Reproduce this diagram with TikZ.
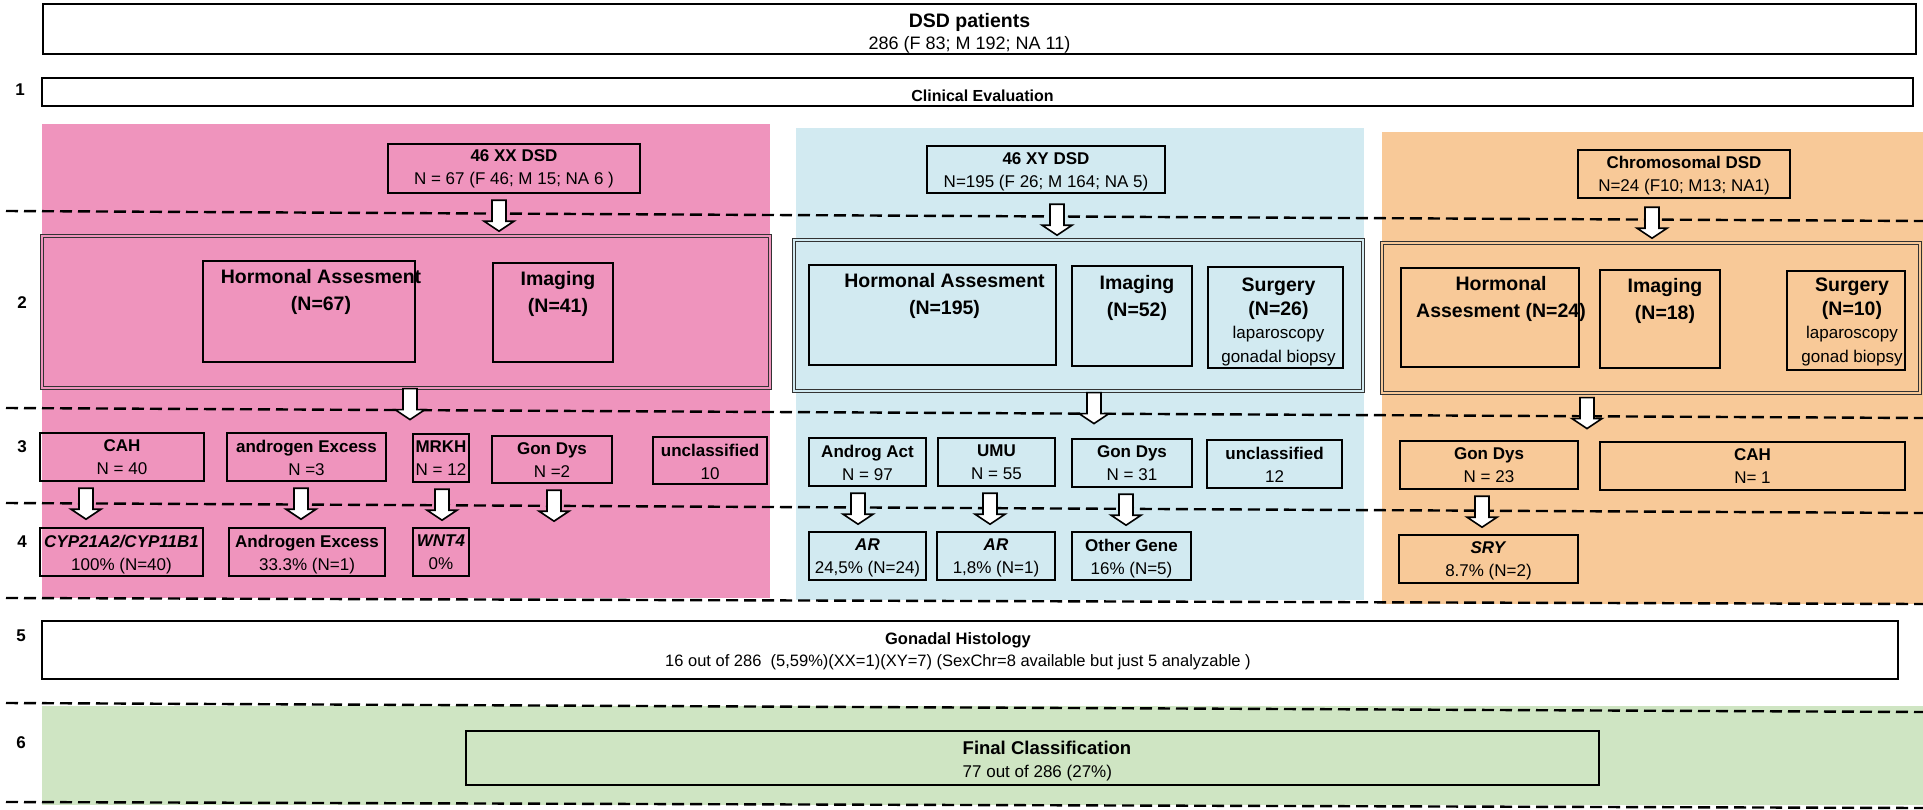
\documentclass[tikz,border=0pt]{standalone}
\usepackage{fontspec}
\setmainfont{Liberation Sans}
\usetikzlibrary{calc,fit}
\definecolor{pinkbg}{RGB}{239,148,189}
\definecolor{bluebg}{RGB}{210,234,241}
\definecolor{orangebg}{RGB}{248,201,152}
\definecolor{greenbg}{RGB}{207,229,195}
\newcommand\fsA{\fontsize{17}{23}\selectfont}
\newcommand\fsB{\fontsize{19.5}{27}\selectfont}
\newcommand\fsC{\fontsize{19.5}{23.5}\selectfont}
\newcommand\fsR{\fontsize{17}{22}\selectfont}
\newcommand\blockarr[3][6]{%
  \draw[barrow] let \p1=(#3.south) in
    (#2pt-7pt,\y1-#1pt) -- ++(0pt,-21pt) -- ++(-8pt,0pt) -- ++(15pt,-10pt)
    -- ++(15pt,10pt) -- ++(-8pt,0pt) -- ++(0pt,21pt) -- cycle;}
\tikzset{
  bx/.style={draw, line width=2.4pt, inner sep=0pt},
  bigbx/.style={draw=black!80, line width=1.1pt, double=#1, double distance=1.6pt, inner sep=0pt},
  lbl/.style={anchor=north, align=center, inner sep=0pt, font=\fsA},
  lblB/.style={anchor=north, align=center, inner sep=0pt, font=\fsB},
  lblC/.style={anchor=north, align=center, inner sep=0pt, font=\fsC},
  num/.style={font=\fontsize{17}{20}\selectfont\bfseries, inner sep=0pt},
  dashline/.style={line width=2.4pt, dash pattern=on 12pt off 6pt},
  barrow/.style={draw, line width=1.6pt, fill=white, line join=miter},
}
\begin{document}
\begin{tikzpicture}[x=1pt,y=-1pt]
\useasboundingbox (0,0) rectangle (1923,809);
% coloured bands
\fill[pinkbg] (42,124) rectangle (770,598);
\fill[bluebg] (796,128) rectangle (1364,600);
\fill[orangebg] (1382,132) rectangle (1923,604);
\fill[greenbg] (42,706) rectangle (1923,805);
% dashed separators
\foreach \a/\b in {211/221, 408/418, 503/513, 598/604, 703/712, 802/808}
  \draw[dashline] (6,\a) -- (1923,\b);
% step numbers
\node[num] (n1) at (20,90) {1};
\node[num] (n2) at (22,303) {2};
\node[num] (n3) at (22,447) {3};
\node[num] (n4) at (22,542) {4};
\node[num] (n5) at (21,636) {5};
\node[num] (n6) at (21,743) {6};
% top
\node[bx, fill=white, fit={(43,4)(1916,54)},
  label={[lbl, font=\fontsize{19.5}{22}\selectfont, yshift=-10pt, xshift=-10pt]north:{\textbf{DSD patients}\\{\fontsize{18}{22}\selectfont 286 (F 83; M 192; NA 11)}}}] (dsd) {};
\node[bx, fill=white, fit={(42,78)(1913,106)},
  label={[lbl, font=\fontsize{16}{20}\selectfont, yshift=-13pt, xshift=5pt]north:{\textbf{Clinical Evaluation}}}] (clin) {};
% ---------- pink column ----------
\node[bx, fit={(388,144)(640,193)},
  label={[lbl, yshift=-7pt]north:{\textbf{46 XX DSD}\\N = 67 (F 46; M 15; NA 6 )}}] (xx) {};
\node[bigbx=pinkbg, fit={(42,236)(770,388)}] (pbig) {};
\node[bx, fit={(203,261)(415,362)},
  label={[lblB, yshift=-9pt, xshift=12pt]north:{\textbf{Hormonal Assesment}\\\textbf{(N=67)}}}] (phorm) {};
\node[bx, fit={(493,263)(613,362)},
  label={[lblB, yshift=-9pt, xshift=5pt]north:{\textbf{Imaging}\\\textbf{(N=41)}}}] (pimg) {};
\node[bx, fit={(40,433)(204,481)},
  label={[lbl, yshift=-8pt]north:{\textbf{CAH}\\N = 40}}] (pcah) {};
\node[bx, fit={(227,433)(386,481)},
  label={[lbl, yshift=-8pt]north:{\textbf{androgen Excess}\\N =3}}] (pae) {};
\node[bx, fit={(413,434)(469,482)},
  label={[lbl, yshift=-8pt]north:{\textbf{MRKH}\\N = 12}}] (pmrkh) {};
\node[bx, fit={(492,436)(612,483)},
  label={[lbl, yshift=-8pt]north:{\textbf{Gon Dys}\\N =2}}] (pgd) {};
\node[bx, fit={(653,437)(767,484)},
  label={[lbl, yshift=-8pt]north:{\textbf{unclassified}\\10}}] (pun) {};
\node[bx, fit={(40,528)(203,576)},
  label={[lbl, yshift=-8pt]north:{\textbf{\textit{CYP21A2/CYP11B1}}\\100\% (N=40)}}] (pcyp) {};
\node[bx, fit={(229,528)(385,576)},
  label={[lbl, yshift=-8pt]north:{\textbf{Androgen Excess}\\33.3\% (N=1)}}] (pae2) {};
\node[bx, fit={(413,528)(469,576)},
  label={[lbl, yshift=-8pt]north:{\textbf{\textit{WNT4}}\\0\%}}] (pwnt) {};
% ---------- blue column ----------
\node[bx, fit={(927,146)(1165,193)},
  label={[lbl, yshift=-8pt]north:{\textbf{46 XY DSD}\\N=195 (F 26; M 164; NA 5)}}] (xy) {};
\node[bigbx=bluebg, fit={(794,240)(1363,391)}] (bbig) {};
\node[bx, fit={(809,265)(1056,365)},
  label={[lblB, yshift=-9pt, xshift=12pt]north:{\textbf{Hormonal Assesment}\\\textbf{(N=195)}}}] (bhorm) {};
\node[bx, fit={(1072,266)(1192,366)},
  label={[lblB, yshift=-10pt, xshift=5pt]north:{\textbf{Imaging}\\\textbf{(N=52)}}}] (bimg) {};
\node[bx, fit={(1208,267)(1343,368)},
  label={[lblC, yshift=-12pt, xshift=3pt]north:{\textbf{Surgery}\\\textbf{(N=26)}\\{\fsR laparoscopy}\\{\fsR gonadal biopsy}}}] (bsurg) {};
\node[bx, fit={(809,438)(926,486)},
  label={[lbl, yshift=-8pt]north:{\textbf{Androg Act}\\N = 97}}] (baa) {};
\node[bx, fit={(938,438)(1055,486)},
  label={[lbl, yshift=-8pt]north:{\textbf{UMU}\\N = 55}}] (bumu) {};
\node[bx, fit={(1072,439)(1192,487)},
  label={[lbl, yshift=-8pt]north:{\textbf{Gon Dys}\\N = 31}}] (bgd) {};
\node[bx, fit={(1207,440)(1342,488)},
  label={[lbl, yshift=-8pt]north:{\textbf{unclassified}\\12}}] (bun) {};
\node[bx, fit={(809,532)(926,580)},
  label={[lbl, yshift=-8pt]north:{\textbf{\textit{AR}}\\24,5\% (N=24)}}] (bar1) {};
\node[bx, fit={(937,532)(1055,580)},
  label={[lbl, yshift=-8pt]north:{\textbf{\textit{AR}}\\1,8\% (N=1)}}] (bar2) {};
\node[bx, fit={(1072,532)(1191,580)},
  label={[lbl, yshift=-8pt]north:{\textbf{Other Gene}\\16\% (N=5)}}] (bog) {};
% ---------- orange column ----------
\node[bx, fit={(1578,150)(1790,198)},
  label={[lbl, yshift=-7pt]north:{\textbf{Chromosomal DSD}\\N=24 (F10; M13; NA1)}}] (chr) {};
\node[bigbx=orangebg, fit={(1382,243)(1920,393)}] (obig) {};
\node[bx, fit={(1401,268)(1579,367)},
  label={[lblB, yshift=-9pt, xshift=11pt]north:{\textbf{Hormonal}\\\textbf{Assesment (N=24)}}}] (ohorm) {};
\node[bx, fit={(1600,270)(1720,368)},
  label={[lblB, yshift=-9pt, xshift=5pt]north:{\textbf{Imaging}\\\textbf{(N=18)}}}] (oimg) {};
\node[bx, fit={(1787,271)(1905,370)},
  label={[lblC, yshift=-8pt, xshift=6pt]north:{\textbf{Surgery}\\\textbf{(N=10)}\\{\fsR laparoscopy}\\{\fsR gonad biopsy}}}] (osurg) {};
\node[bx, fit={(1400,441)(1578,489)},
  label={[lbl, yshift=-8pt]north:{\textbf{Gon Dys}\\N = 23}}] (ogd) {};
\node[bx, fit={(1600,442)(1905,490)},
  label={[lbl, yshift=-8pt]north:{\textbf{CAH}\\N= 1}}] (ocah) {};
\node[bx, fit={(1399,535)(1578,583)},
  label={[lbl, yshift=-8pt]north:{\textbf{\textit{SRY}}\\8.7\% (N=2)}}] (osry) {};
% ---------- rows 5 and 6 ----------
\node[bx, fill=white, fit={(42,621)(1898,679)},
  label={[lbl, font=\fontsize{16.5}{22}\selectfont, yshift=-13pt, xshift=-12pt]north:{\textbf{Gonadal Histology}\\16 out of 286\ \ (5,59\%)(XX=1)(XY=7) (SexChr=8 available but just 5 analyzable )}}] (gon) {};
\node[bx, fit={(466,731)(1599,785)},
  label={[lbl, anchor=north west, align=left, yshift=-11pt, xshift=-70pt]north:{{\fontsize{18.5}{23}\selectfont\textbf{Final Classification}}\\77 out of 286 (27\%)}}] (fin) {};
% ---------- block arrows ----------
\blockarr{499}{xx}
\blockarr[0]{410}{pbig}
\blockarr{86}{pcah}
\blockarr{301}{pae}
\blockarr{442}{pmrkh}
\blockarr{554}{pgd}
\blockarr[10]{1057}{xy}
\blockarr[1]{1094}{bbig}
\blockarr{858}{baa}
\blockarr{990}{bumu}
\blockarr{1126}{bgd}
\blockarr[8]{1652}{chr}
\blockarr[4]{1587}{obig}
\blockarr{1482}{ogd}
\end{tikzpicture}
\end{document}
